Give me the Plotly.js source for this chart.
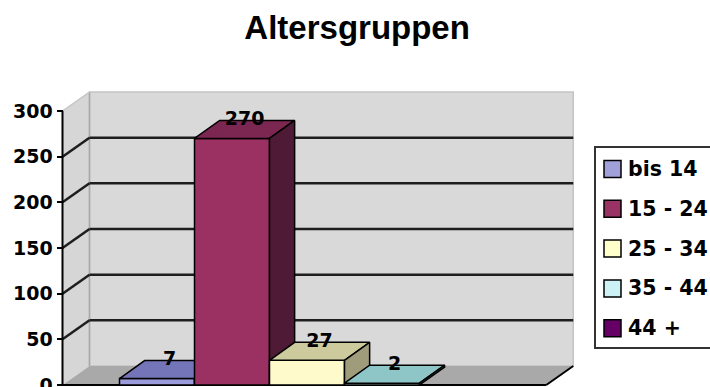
<!DOCTYPE html>
<html>
<head>
<meta charset="utf-8">
<script src="https://cdn.plot.ly/plotly-3.0.1.min.js"></script>
<style>html,body{margin:0;padding:0;background:#fff;}#chart{width:710px;height:387px;}</style>
</head>
<body>
<div id="chart"></div>
<script>
// ---- data ----
const chartTitle = 'Altersgruppen';
const categories = ['bis 14', '15 - 24', '25 - 34', '35 - 44', '44 +'];
const values = [7, 270, 27, 2, null];
const tickValues = [0, 50, 100, 150, 200, 250, 300];
const frontColors = ['#9c9cdc', '#9b3062', '#fffacc', '#ccf6f6', '#660066'];
const topColors = ['#7474b8', '#7c2652', '#cdcb9e', '#8ec6c8', '#4d004d'];
const sideColors = ['#5a5a92', '#4e1a36', '#9e9c7a', '#6a9c9c', '#330033'];
const legendColors = ['#a0a0da', '#993366', '#ffffcc', '#ccf2f6', '#660066'];

// ---- geometry (styling) ----
const W = 710, H = 387;
const BAR_START = 0.76, BAR_W = 1.0;
const WALL_DX = 0.36, WALL_DY = 20.8;
const BAR_DX = 0.335, BAR_DY = 19.7;
const FLOOR_END = 6.45;
const WALL_RIGHT = FLOOR_END + WALL_DX;
const Y_TOP = tickValues[tickValues.length - 1];
const px = x => x / W, py = y => 1 - y / H;

const traces = [];
const shapes = [];
const annotations = [];

function poly(xs, ys, fill, lw, lc) {
  traces.push({
    type: 'scatter', mode: 'lines', x: xs.concat([xs[0]]), y: ys.concat([ys[0]]),
    fill: 'toself', fillcolor: fill, line: {color: lc || '#000', width: lw},
    hoverinfo: 'skip', showlegend: false
  });
}

// walls and floor
shapes.push({type: 'path', layer: 'below', xref: 'x', yref: 'y',
  path: `M0,0 L0,${Y_TOP} L${WALL_DX},${Y_TOP + WALL_DY} L${WALL_DX},${WALL_DY} Z`,
  fillcolor: '#d6d6d6', line: {width: 0}});
shapes.push({type: 'rect', layer: 'below', xref: 'x', yref: 'y',
  x0: WALL_DX, x1: WALL_RIGHT, y0: WALL_DY, y1: Y_TOP + WALL_DY,
  fillcolor: '#d9d9d9', line: {color: '#c4c4c4', width: 1.5}});
shapes.push({type: 'path', layer: 'below', xref: 'x', yref: 'y',
  path: `M0,0 L${FLOOR_END},0 L${WALL_RIGHT},${WALL_DY} L${WALL_DX},${WALL_DY} Z`,
  fillcolor: '#a9a9a9', line: {width: 0}});
// wall edges
shapes.push({type: 'line', layer: 'below', xref: 'x', yref: 'y', x0: WALL_DX, x1: WALL_DX, y0: WALL_DY, y1: Y_TOP + WALL_DY, line: {color: '#a8a8a8', width: 1.5}});
shapes.push({type: 'line', layer: 'below', xref: 'x', yref: 'y', x0: 0, x1: WALL_DX, y0: Y_TOP, y1: Y_TOP + WALL_DY, line: {color: '#c4c4c4', width: 1.5}});
// gridlines
tickValues.forEach(v => {
  if (v > 0 && v < Y_TOP) {
    shapes.push({type: 'line', layer: 'below', xref: 'x', yref: 'y', x0: WALL_DX, x1: WALL_RIGHT, y0: v + WALL_DY, y1: v + WALL_DY, line: {color: '#1e1e1e', width: 2.5}});
    shapes.push({type: 'line', layer: 'below', xref: 'x', yref: 'y', x0: 0, x1: WALL_DX, y0: v, y1: v + WALL_DY, line: {color: '#1e1e1e', width: 2.5}});
  }
});
// front axis and floor edges
shapes.push({type: 'line', layer: 'below', xref: 'x', yref: 'y', x0: 0, x1: 0, y0: 0, y1: Y_TOP, line: {color: '#000', width: 2}});
shapes.push({type: 'line', layer: 'below', xref: 'x', yref: 'y', x0: 0, x1: FLOOR_END, y0: 0, y1: 0, line: {color: '#000', width: 2}});
shapes.push({type: 'line', layer: 'below', xref: 'x', yref: 'y', x0: FLOOR_END, x1: WALL_RIGHT, y0: 0, y1: WALL_DY, line: {color: '#000', width: 2}});

// bars
const labelX = [], labelY = [], labelT = [];
values.forEach((v, i) => {
  if (v === null || v === undefined) return;
  const L = BAR_START + i * BAR_W, R = L + BAR_W;
  poly([L, R, R, L], [0, 0, v, v], frontColors[i], 1.5);
  poly([L, R, R + BAR_DX, L + BAR_DX], [v, v, v + BAR_DY, v + BAR_DY], topColors[i], 1.5);
  poly([R, R + BAR_DX, R + BAR_DX, R], [0, BAR_DY, v + BAR_DY, v], sideColors[i], 1.5);
  labelX.push(L + BAR_W / 2 + BAR_DX / 2);
  labelY.push(v + BAR_DY);
  labelT.push(String(v));
});
traces.push({type: 'scatter', mode: 'text', x: labelX, y: labelY, text: labelT,
  textposition: 'middle center', textfont: {family: 'DejaVu Sans', size: 19, weight: 'bold', color: '#000'},
  hoverinfo: 'skip', showlegend: false});

// legend (manual)
const LEG_L = 595, LEG_T = 147, LEG_B = 348, ROW0 = 169, ROW_H = 39.8;
shapes.push({type: 'rect', xref: 'paper', yref: 'paper', x0: px(LEG_L), x1: px(W + 6), y0: py(LEG_B), y1: py(LEG_T),
  fillcolor: '#fff', line: {color: '#333', width: 2}});
categories.forEach((c, i) => {
  const cy = ROW0 + i * ROW_H;
  shapes.push({type: 'rect', xref: 'paper', yref: 'paper', x0: px(604), x1: px(621), y0: py(cy + 8.5), y1: py(cy - 8.5),
    fillcolor: legendColors[i], line: {color: '#000', width: 1.5}});
  annotations.push({xref: 'paper', yref: 'paper', x: px(626), y: py(cy), xanchor: 'left', yanchor: 'middle',
    text: c, showarrow: false, font: {family: 'DejaVu Sans', size: 20.5, weight: 'bold', color: '#000'}});
});

const layout = {
  width: W, height: H,
  margin: {l: 0, r: 0, t: 0, b: 0, autoexpand: false},
  paper_bgcolor: '#fff', plot_bgcolor: '#fff',
  showlegend: false,
  title: {text: chartTitle, x: 0.503, xanchor: 'center', y: py(27), yref: 'container', yanchor: 'middle',
    font: {family: 'Liberation Sans, Arial', size: 33, weight: 'bold', color: '#000'}},
  xaxis: {range: [-62.5 / 75, (W - 62.5) / 75], visible: false, fixedrange: true},
  yaxis: {range: [-2 / 0.9133, 385 / 0.9133], tickvals: tickValues, ticktext: tickValues.map(String),
    anchor: 'free', position: 62.5 / W, side: 'left',
    ticks: 'outside', ticklen: 6, tickwidth: 2, tickcolor: '#000', ticklabeloverflow: 'allow',
    showgrid: false, zeroline: false, showline: false, fixedrange: true,
    tickfont: {family: 'DejaVu Sans', size: 19, weight: 'bold', color: '#000'}},
  shapes: shapes,
  annotations: annotations
};

Plotly.newPlot('chart', traces, layout, {displayModeBar: false, staticPlot: true});
</script>
</body>
</html>
